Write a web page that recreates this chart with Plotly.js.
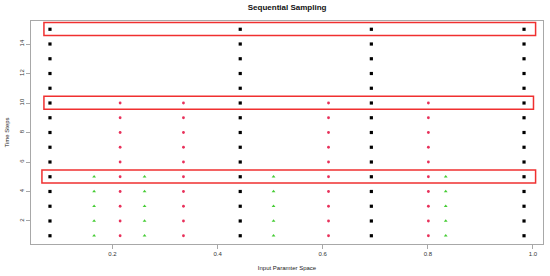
<!DOCTYPE html>
<html><head><meta charset="utf-8">
<script src="https://cdn.plot.ly/plotly-3.0.1.min.js"></script>
<style>html,body{margin:0;padding:0;background:#fff}#c{width:550px;height:276px}</style>
</head><body><div id="c"></div>
<script>
const blackX = [0.081, 0.443, 0.6925, 0.983];
const blackSteps = [1,2,3,4,5,6,7,8,9,10,11,12,13,14,15];
const redX = [0.2145, 0.335, 0.611, 0.801];
const redSteps = [1,2,3,4,5,6,7,8,9,10];
const greenX = [0.165, 0.261, 0.5064, 0.834];
const greenSteps = [1,2,3,4,5];
const xTicks = [0.2, 0.4, 0.6, 0.8, 1.0];
const xTickText = ["0.2", "0.4", "0.6", "0.8", "1.0"];
const yTicks = [2, 4, 6, 8, 10, 12, 14];
const highlightSteps = [15, 10, 5];

function grid(xs, ys) {
  const gx = [], gy = [];
  xs.forEach(x => ys.forEach(y => { gx.push(x); gy.push(y); }));
  return {x: gx, y: gy};
}
const b = grid(blackX, blackSteps), r = grid(redX, redSteps), g = grid(greenX, greenSteps);
const traces = [
  {x: b.x, y: b.y, mode: 'markers', type: 'scatter', marker: {symbol: 'square', size: 3.2, color: '#000'}},
  {x: r.x, y: r.y, mode: 'markers', type: 'scatter', marker: {symbol: 'circle', size: 2.8, color: '#e8305a'}},
  {x: g.x, y: g.y, mode: 'markers', type: 'scatter', marker: {symbol: 'triangle-up', size: 3.3, color: '#44cc33'}}
];
const boxX = [[0.0695, 1.005], [0.0695, 1.001], [0.0657, 1.005]];
const shapes = highlightSteps.map((s, i) => ({
  type: 'rect', xref: 'x', yref: 'y',
  x0: boxX[i][0], x1: boxX[i][1], y0: s - 0.42, y1: s + 0.45,
  line: {color: '#f03030', width: 1.5}
}));
const layout = {
  width: 550, height: 276,
  margin: {l: 30.7, r: 6.7, t: 21.3, b: 32},
  paper_bgcolor: '#fff', plot_bgcolor: '#fff',
  showlegend: false,
  font: {family: 'Liberation Sans, Arial, sans-serif', color: '#222', size: 6},
  title: {text: '<b>Sequential Sampling</b>', font: {size: 8, color: '#111'}, x: 0.522, xanchor: 'center', y: 0.975, yanchor: 'middle'},
  xaxis: {
    range: [0.0449, 1.0191], showgrid: false, zeroline: false,
    showline: true, mirror: true, linecolor: '#a8a8a8', linewidth: 1,
    ticks: 'outside', ticklen: 4, tickcolor: '#a8a8a8',
    tickvals: xTicks, ticktext: xTickText, tickfont: {size: 6, color: '#333'},
    title: {text: 'Input Paramter Space', font: {size: 6, color: '#222'}, standoff: 9}
  },
  yaxis: {
    range: [0.44, 15.56], showgrid: false, zeroline: false,
    showline: true, mirror: true, linecolor: '#a8a8a8', linewidth: 1,
    ticks: 'outside', ticklen: 4, tickcolor: '#a8a8a8',
    tickvals: yTicks, tickangle: -90, tickfont: {size: 6, color: '#333'},
    title: {text: 'Time Steps', font: {size: 6, color: '#222'}, standoff: 8}
  },
  shapes: shapes
};
Plotly.newPlot('c', traces, layout, {displayModeBar: false, staticPlot: true});
</script></body></html>
